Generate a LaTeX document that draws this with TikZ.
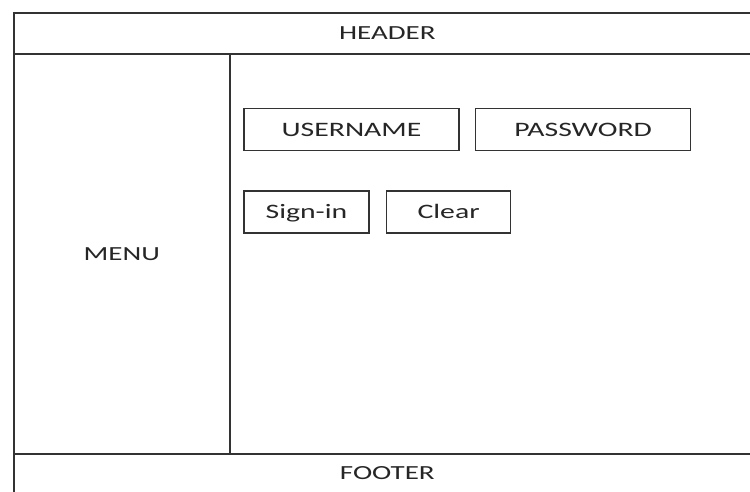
\documentclass[tikz,border=0pt]{standalone}
\usepackage{fontspec}
\newfontfamily\uifont[FakeStretch=1.45]{Carlito}
\usetikzlibrary{positioning}
\tikzset{%
  frame line/.style={draw=black!80, line width=1.6pt},
  region/.style={frame line, anchor=north west, inner sep=0pt,
    text=black!85, font=\uifont\fontsize{20}{24}\selectfont},
  field box/.style={frame line, minimum height=42pt, inner sep=0pt,
    text height=13pt, text depth=0pt,
    text=black!85, font=\uifont\fontsize{20.5}{24}\selectfont}%
}

\begin{document}
\begin{tikzpicture}[x=1pt,y=-1pt] % login page layout
    \useasboundingbox (0,0) rectangle (750,491);
    \clip (0,0) rectangle (750,491);
    \fill[white] (0,0) rectangle (750,491);

    % page regions
    \node[region, minimum width=747pt, minimum height=41pt] (header) at (13,12) {HEADER};
    \node[region, minimum width=216pt, minimum height=400pt] (menu) at (13,53) {MENU};
    \node[region, minimum width=531pt, minimum height=400pt] (content) at (229,53) {};
    % footer runs off the bottom of the page
    \node[region, minimum width=747pt, minimum height=50pt, text depth=12pt] (footer) at (13,453) {FOOTER};

    % login form
    \node[field box, minimum width=215pt] (username) at (351.5,129.5) {USERNAME};
    \node[field box, minimum width=215pt, right=15pt of username] (password) {PASSWORD};
    \node[field box, minimum width=125pt] (signin) at (306.5,212) {Sign-in};
    \node[field box, minimum width=124pt, right=16pt of signin] (clear) {Clear};

\end{tikzpicture}
\end{document}
